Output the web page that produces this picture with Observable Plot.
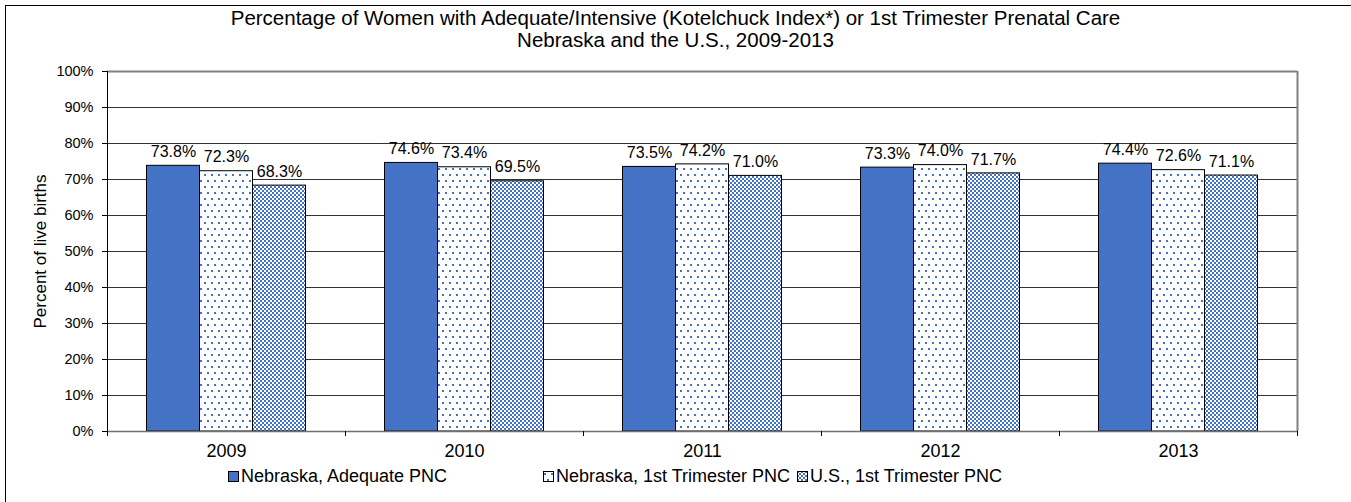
<!DOCTYPE html>
<html>
<head>
<meta charset="utf-8">
<script src="https://cdn.jsdelivr.net/npm/d3@7"></script>
<script src="https://cdn.jsdelivr.net/npm/@observablehq/plot@0.6"></script>
<style>
  body { margin: 0; background: #fff; font-family: Arial, "Liberation Sans", sans-serif; }
  #wrap { position: relative; width: 1351px; height: 502px; overflow: hidden; }
  #border { position: absolute; left: 5px; top: 5px; width: 1400px; height: 600px; border-left: 1px solid #000; border-top: 1px solid #000; }
  #title { position: absolute; left: 0; top: 7px; width: 1351px; text-align: center; font-size: 20.5px; line-height: 22px; color: #000; }
  #chart { position: absolute; left: 0; top: 52px; }
  .leg { position: absolute; top: 466px; font-size: 18px; line-height: 20px; color: #000; white-space: nowrap; display: flex; align-items: center; }
  .leg svg { margin-right: 2px; }
</style>
</head>
<body>
<svg width="0" height="0" style="position:absolute">
  <defs>
    <pattern id="dots" width="7" height="12" patternUnits="userSpaceOnUse">
      <rect width="7" height="12" fill="#fff"/>
      <rect x="1" y="2" width="2" height="2" fill="#4472C4"/>
      <rect x="4" y="8" width="2" height="2" fill="#4472C4"/>
    </pattern>
    <pattern id="checker" width="4" height="4" patternUnits="userSpaceOnUse">
      <rect width="4" height="4" fill="#fff"/>
      <rect x="0" y="0" width="2" height="2" fill="#4472C4"/>
      <rect x="2" y="2" width="2" height="2" fill="#4472C4"/>
    </pattern>
  </defs>
</svg>
<div id="wrap">
  <div id="border"></div>
  <div id="title"></div>
  <div id="chart"></div>
  <div id="legend"></div>
</div>
<script>
// ---- data ----
const years = [2009, 2010, 2011, 2012, 2013];
const nebraskaAdequate = [73.8, 74.6, 73.5, 73.3, 74.4];
const nebraska1st = [72.3, 73.4, 74.2, 74.0, 72.6];
const us1st = [68.3, 69.5, 71.0, 71.7, 71.1];
const seriesNames = ["Nebraska, Adequate PNC", "Nebraska, 1st Trimester PNC", "U.S., 1st Trimester PNC"];
const yTicks = [0, 10, 20, 30, 40, 50, 60, 70, 80, 90, 100];
const titleLines = ["Percentage of Women with Adequate/Intensive (Kotelchuck Index*) or 1st Trimester Prenatal Care", "Nebraska and the U.S., 2009-2013"];
const yLabel = "Percent of live births";

// ---- styles ----
const fills = ["#4472C4", "url(#dots)", "url(#checker)"];
const seriesValues = [nebraskaAdequate, nebraska1st, us1st];
const groupFrac = 159 / 238;
const barW = groupFrac / 3;
const lead = (1 - groupFrac) / 2;

const rows = [];
years.forEach((yr, i) => seriesValues.forEach((vals, s) => rows.push({year: yr, s, value: vals[i]})));
const x1 = d => d.year - 0.5 + lead + d.s * barW;
const x2 = d => x1(d) + barW;
const xc = d => x1(d) + barW / 2;
const bounds = [years[0] - 0.5, ...years.map(y => y + 0.5)];

document.getElementById("title").innerHTML = titleLines.map(t => `<div>${t}</div>`).join("");

const barMarks = seriesValues.map((_, s) =>
  Plot.rectY(rows.filter(d => d.s === s), {x1, x2, y1: 0, y2: "value", fill: fills[s], stroke: "#000", strokeWidth: 1})
);

const chart = Plot.plot({
  width: 1351,
  height: 408,
  marginLeft: 107,
  marginRight: 54,
  marginTop: 19,
  marginBottom: 29,
  x: {domain: [bounds[0], bounds[bounds.length - 1]]},
  y: {domain: [0, 100]},
  style: {fontFamily: "Arial, 'Liberation Sans', sans-serif", color: "#000", background: "transparent", overflow: "visible"},
  marks: [
    Plot.gridY(yTicks.slice(1, -1), {stroke: "#333", strokeOpacity: 1, strokeWidth: 1}),
    Plot.ruleY([100], {stroke: "#808080", strokeWidth: 2}),
    Plot.ruleX([bounds[bounds.length - 1]], {stroke: "#808080", strokeWidth: 2}),
    ...barMarks,
    Plot.ruleY([0], {stroke: "#707070", strokeWidth: 1.5}),
    Plot.ruleX([bounds[0]], {stroke: "#000", strokeWidth: 1}),
    Plot.axisY({ticks: yTicks, tickFormat: d => d + "%", tickSize: 5, tickPadding: 9, fontSize: 14.5, label: null, stroke: "#000"}),
    Plot.axisX({ticks: bounds, tickSize: 5, tickFormat: () => "", label: null, stroke: "#000"}),
    Plot.axisX({ticks: years, tickSize: 0, tickPadding: 13, fontSize: 18, tickFormat: d => String(d), label: null}),
    Plot.text(rows, {x: xc, y: "value", text: d => d.value.toFixed(1) + "%", dy: -14, lineAnchor: "middle", fontSize: 16, fill: "#000"}),
    Plot.text([yLabel], {frameAnchor: "left", textAnchor: "middle", rotate: -90, dx: -67, fontSize: 17, fill: "#000"})
  ]
});
document.getElementById("chart").appendChild(chart);

// legend
const legX = [228, 543, 797];
document.getElementById("legend").innerHTML = seriesNames.map((name, s) =>
  `<div class="leg" style="left:${legX[s]}px"><svg width="11" height="11"><rect x="0.5" y="0.5" width="10" height="10" fill="${fills[s]}" stroke="#000" stroke-width="1"/></svg><span>${name}</span></div>`
).join("");
</script>
</body>
</html>
